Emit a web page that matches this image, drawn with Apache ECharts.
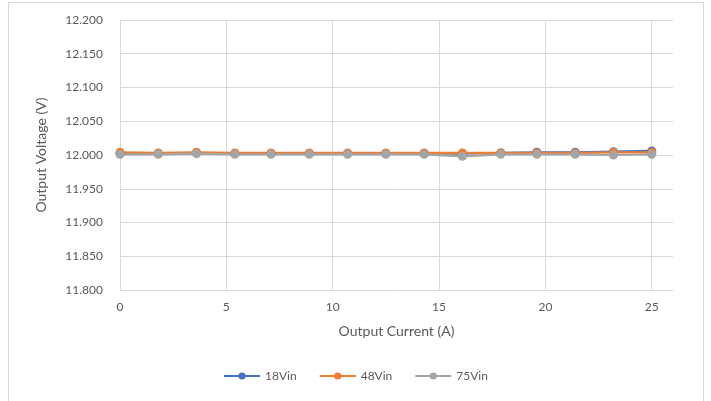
<!DOCTYPE html>
<html><head><meta charset="utf-8">
<script src="https://cdn.jsdelivr.net/npm/echarts@6/dist/echarts.min.js"></script>
<style>html,body{margin:0;padding:0;background:#fff}#c{width:711px;height:401px}</style>
</head><body><div id="c"></div>
<script>
const current = [0, 1.8, 3.6, 5.4, 7.1, 8.9, 10.7, 12.5, 14.3, 16.1, 17.9, 19.6, 21.4, 23.2, 25.0];
const v18 = [12.002, 12.002, 12.003, 12.002, 12.002, 12.002, 12.002, 12.002, 12.002, 12.002, 12.003, 12.004, 12.004, 12.005, 12.006];
const v48 = [12.004, 12.003, 12.004, 12.003, 12.003, 12.003, 12.003, 12.003, 12.003, 12.003, 12.003, 12.003, 12.003, 12.004, 12.004];
const v75 = [12.001, 12.001, 12.002, 12.001, 12.001, 12.001, 12.001, 12.001, 12.001, 11.998, 12.001, 12.001, 12.001, 12.000, 12.001];
const seriesNames = ['18Vin', '48Vin', '75Vin'];
const colors = ['#4472C4', '#ED7D31', '#A5A5A5'];
const values = [v18, v48, v75];

const chart = echarts.init(document.getElementById('c'));
const font = 'Lato, "Open Sans", sans-serif';
chart.setOption({
  animation: false,
  textStyle: {fontFamily: font},
  graphic: [{type: 'rect', shape: {x: 8.5, y: 2.5, width: 695, height: 400}, style: {fill: 'none', stroke: '#d9d9d9', lineWidth: 1}}],
  grid: {left: 120, right: 38, top: 20, bottom: 111},
  legend: {
    bottom: 14, left: 'center', itemWidth: 36, itemHeight: 9, itemGap: 22,
    textStyle: {color: '#595959', fontSize: 12, fontFamily: font},
    data: seriesNames
  },
  xAxis: {
    type: 'value', min: 0, max: 26, interval: 5,
    name: 'Output Current (A)', nameLocation: 'middle', nameGap: 34,
    nameTextStyle: {color: '#595959', fontSize: 14, fontFamily: font},
    axisLine: {show: true, lineStyle: {color: '#d9d9d9'}},
    axisTick: {show: false},
    axisLabel: {color: '#595959', fontSize: 12, margin: 11, showMaxLabel: false},
    splitLine: {show: true, showMaxLine: false, lineStyle: {color: '#d9d9d9'}}
  },
  yAxis: {
    type: 'value', min: 11.8, max: 12.2, interval: 0.05,
    name: 'Output Voltage (V)', nameLocation: 'middle', nameGap: 72,
    nameTextStyle: {color: '#595959', fontSize: 14, fontFamily: font},
    axisLine: {show: false}, axisTick: {show: false},
    axisLabel: {color: '#595959', fontSize: 12, margin: 17, formatter: v => v.toFixed(3)},
    splitLine: {lineStyle: {color: '#d9d9d9'}}
  },
  series: seriesNames.map((n, i) => ({
    name: n, type: 'line', symbol: 'circle', symbolSize: 9,
    data: current.map((x, j) => [x, values[i][j]]),
    lineStyle: {color: colors[i], width: 2.25},
    itemStyle: {color: colors[i]}
  }))
});
</script></body></html>
